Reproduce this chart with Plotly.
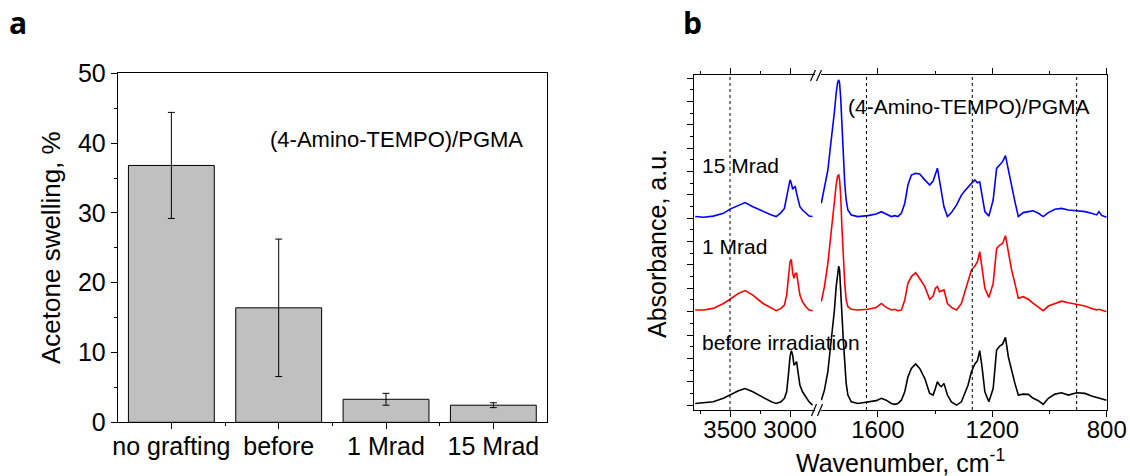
import plotly.graph_objects as go

W, H = 1130, 476
FONT = "Liberation Sans, Arial, sans-serif"

# ---------------- Panel a data ----------------
categories = ["no grafting", "before", "1 Mrad", "15 Mrad"]
swelling = [36.8, 16.4, 3.3, 2.45]
swelling_err = [7.6, 9.85, 0.85, 0.35]

# ---------------- Panel b data ----------------
# high-wavenumber segment (cm-1)
wn_high = [3790, 3720, 3640, 3555, 3500, 3430, 3375, 3310, 3225, 3155, 3115, 3075, 3047, 3028,
           3011, 3000, 2989, 2978, 2967, 2956, 2945, 2934, 2918, 2896, 2868, 2841, 2813]
abs_before_high = [0.07, 0.10, 0.14, 0.29, 0.43, 0.61, 0.71, 0.57, 0.33, 0.14, 0.07, 0.14, 0.29, 0.57,
                   1.43, 2.07, 2.33, 2.14, 1.71, 1.78, 1.86, 1.43, 0.86, 0.57, 0.36, 0.14, 0.00]
abs_1mrad_high = [0.07, 0.07, 0.14, 0.35, 0.53, 0.78, 0.90, 0.71, 0.35, 0.14, 0.04, 0.14, 0.28, 0.71,
                  1.64, 2.14, 2.24, 1.64, 1.43, 1.64, 1.64, 1.28, 0.71, 0.42, 0.21, 0.07, 0.04]
abs_15mrad_high = [0.07, 0.04, 0.09, 0.21, 0.39, 0.54, 0.67, 0.49, 0.28, 0.14, 0.07, 0.24, 0.42, 0.92,
                   1.42, 1.64, 1.49, 1.24, 1.32, 1.35, 1.06, 0.78, 0.49, 0.35, 0.21, 0.09, 0.07]

# low-wavenumber segment (cm-1)
wn_low = [1798, 1787, 1775, 1766, 1757, 1752, 1746, 1741, 1737, 1734, 1730, 1726, 1721, 1716, 1711,
          1705, 1693, 1670, 1635, 1606, 1588, 1571, 1553, 1541, 1530, 1518, 1506, 1495, 1483, 1468,
          1454, 1436, 1419, 1407, 1399, 1392, 1385, 1378, 1369, 1357, 1343, 1325, 1308, 1296, 1285,
          1273, 1261, 1252, 1244, 1236, 1226, 1212, 1197, 1185, 1174, 1164, 1154, 1144, 1133, 1121,
          1109, 1092, 1074, 1057, 1039, 1022, 1004, 981, 958, 934, 905, 876, 853, 835, 827, 818, 800]
abs_before_low = [0.21, 0.64, 1.43, 2.36, 3.35, 4.07, 5.07, 5.71, 5.95, 5.78, 5.07, 3.93, 2.78, 1.78, 0.93,
                  0.43, 0.14, 0.07, 0.14, 0.19, 0.29, 0.21, 0.07, 0.03, 0.07, 0.21, 0.57, 1.21, 1.57, 1.76,
                  1.57, 1.14, 0.50, 0.43, 0.71, 1.00, 0.86, 0.79, 0.93, 0.43, 0.14, 0.00, 0.14, 0.50, 0.85,
                  1.43, 1.76, 1.90, 2.33, 1.64, 0.57, 0.14, 0.71, 2.36, 2.53, 2.61, 2.90, 2.07, 1.50, 0.93,
                  0.43, 0.47, 0.46, 0.29, 0.19, 0.03, 0.29, 0.47, 0.53, 0.43, 0.53, 0.50, 0.39, 0.33, 0.33,
                  0.29, 0.21]
abs_1mrad_low = [0.43, 1.07, 2.07, 3.21, 4.07, 4.71, 5.42, 5.81, 5.85, 5.64, 4.92, 3.64, 2.35, 1.21, 0.50,
                 0.21, 0.10, 0.07, 0.10, 0.18, 0.35, 0.18, 0.07, 0.10, 0.04, 0.07, 0.50, 1.21, 1.50, 1.67,
                 1.42, 1.07, 0.53, 0.67, 1.00, 1.07, 0.85, 0.90, 0.93, 0.35, 0.18, 0.07, 0.35, 0.85, 1.30,
                 1.78, 1.95, 2.14, 2.57, 1.78, 1.00, 0.61, 1.21, 2.71, 2.85, 2.92, 3.25, 2.57, 1.81, 1.21,
                 0.57, 0.64, 0.53, 0.35, 0.21, 0.04, 0.24, 0.35, 0.45, 0.38, 0.31, 0.24, 0.14, 0.07, 0.10,
                 0.07, 0.00]
abs_15mrad_low = [0.64, 1.28, 2.06, 3.06, 3.92, 4.56, 5.35, 5.80, 5.92, 5.78, 5.12, 3.92, 2.63, 1.49, 0.78,
                  0.35, 0.14, 0.07, 0.11, 0.18, 0.28, 0.18, 0.07, 0.11, 0.07, 0.21, 0.64, 1.42, 1.85, 1.92,
                  1.89, 1.64, 1.42, 1.59, 1.92, 2.14, 1.64, 1.06, 0.49, 0.07, 0.24, 0.57, 0.99, 1.18, 1.35,
                  1.49, 1.64, 1.52, 1.56, 0.92, 0.28, 0.09, 0.78, 2.13, 2.28, 2.42, 2.68, 2.06, 1.35, 0.71,
                  0.07, 0.24, 0.28, 0.32, 0.21, 0.07, 0.24, 0.38, 0.42, 0.35, 0.32, 0.28, 0.21, 0.14, 0.28,
                  0.12, 0.04]

series_names = ["before irradiation", "1 Mrad", "15 Mrad"]
series_colors = ["#000000", "#ff0000", "#0000ff"]
series_offsets = [0, 4, 8]
ref_lines_high = [3500]
ref_lines_low = [1640, 1270, 905]


def px(x):
    return x / W


def py(y):
    return 1 - y / H


fig = go.Figure()

# ---- panel a bars ----
cat_pos = list(range(len(categories)))
fig.add_trace(go.Bar(
    x=cat_pos, y=swelling, width=0.8,
    marker=dict(color="#c0c0c0", line=dict(color="black", width=1)),
    error_y=dict(type="data", array=swelling_err, visible=True, color="black",
                 thickness=1, width=3.5),
    xaxis="x", yaxis="y", showlegend=False))

# ---- panel b spectra ----
highs = [abs_before_high, abs_1mrad_high, abs_15mrad_high]
lows = [abs_before_low, abs_1mrad_low, abs_15mrad_low]
for name, col, off, hi, lo in zip(series_names, series_colors, series_offsets, highs, lows):
    fig.add_trace(go.Scatter(x=wn_high, y=[v + off for v in hi], mode="lines", name=name,
                             line=dict(color=col, width=1.6), xaxis="x3", yaxis="y3",
                             showlegend=False))
    fig.add_trace(go.Scatter(x=wn_low, y=[v + off for v in lo], mode="lines", name=name,
                             line=dict(color=col, width=1.6), xaxis="x4", yaxis="y4",
                             showlegend=False))

tickfont_a = dict(family=FONT, size=25, color="black")
tickfont_b = dict(family=FONT, size=24, color="black")
common = dict(showgrid=False, zeroline=False, linecolor="black", linewidth=1,
              tickcolor="black", tickwidth=1, automargin=False)

xa_dom = [px(117.7), px(547)]
ya_dom = [py(422.3), py(73.3)]
xb1_dom = [px(694), px(815)]
xb2_dom = [px(821), px(1106.7)]
yb_dom = [py(410), py(75)]
yb_range = [-0.21, 14.13]

fig.update_layout(
    template="none",
    width=W, height=H, margin=dict(l=0, r=0, t=0, b=0, pad=0, autoexpand=False),
    paper_bgcolor="white", plot_bgcolor="white", showlegend=False,
    font=dict(family=FONT, color="black"),
    # panel a
    xaxis=dict(domain=xa_dom, anchor="y", range=[-0.5, 3.5], tickmode="array",
               tickvals=cat_pos, ticktext=categories, ticks="outside", ticklen=6,
               ticklabelstandoff=-4,
               showline=True, mirror=True, tickfont=tickfont_a,
               minor=dict(tickmode="array", tickvals=[0.5, 1.5, 2.5], ticks="outside",
                          ticklen=3, tickcolor="black"), **common),
    xaxis2=dict(overlaying="x", side="top", anchor="y", range=[-0.5, 3.5], tickmode="array",
                tickvals=cat_pos, ticks="inside", ticklen=6, showticklabels=False,
                showline=False,
                minor=dict(tickmode="array", tickvals=[0.5, 1.5, 2.5], ticks="inside",
                           ticklen=3, tickcolor="black"), **common),
    yaxis=dict(domain=ya_dom, anchor="x", range=[0, 50], tickmode="linear", tick0=0, dtick=10,
               ticks="outside", ticklen=6, showline=True, mirror=True, tickfont=tickfont_a,
               minor=dict(dtick=5, ticks="outside", ticklen=3, tickcolor="black"), **common),
    yaxis2=dict(overlaying="y", side="right", anchor="x", range=[0, 50], tickmode="linear",
                tick0=0, dtick=10, ticks="inside", ticklen=6, showticklabels=False,
                showline=False,
                minor=dict(dtick=5, ticks="inside", ticklen=3, tickcolor="black"), **common),
    # panel b
    xaxis3=dict(domain=xb1_dom, anchor="y3", range=[3800, 2792], tickmode="linear", tick0=0,
                dtick=500, ticks="outside", ticklen=6, showline=True, mirror="ticks",
                tickfont=tickfont_b, ticklabelstandoff=-8,
                minor=dict(dtick=250, ticks="outside", ticklen=3, tickcolor="black"), **common),
    xaxis4=dict(domain=xb2_dom, anchor="y4", range=[1799, 800], tickmode="linear", tick0=0,
                dtick=400, ticks="outside", ticklen=6, showline=True, mirror="ticks",
                tickfont=tickfont_b, ticklabelstandoff=-8,
                minor=dict(dtick=200, ticks="outside", ticklen=3, tickcolor="black"), **common),
    yaxis3=dict(domain=yb_dom, anchor="x3", range=yb_range, tickmode="linear", tick0=0, dtick=1,
                ticks="outside", ticklen=6, showline=True, showticklabels=False,
                minor=dict(dtick=0.5, ticks="outside", ticklen=3, tickcolor="black"), **common),
    yaxis4=dict(domain=yb_dom, anchor="x4", side="right", range=yb_range, matches="y3",
                ticks="", showline=True, showticklabels=False, **common),
)

shapes = []
for w in ref_lines_high:
    shapes.append(dict(type="line", xref="x3", yref="y3 domain", x0=w, x1=w, y0=0, y1=1,
                       line=dict(color="black", width=1, dash="dot")))
for w in ref_lines_low:
    shapes.append(dict(type="line", xref="x4", yref="y4 domain", x0=w, x1=w, y0=0, y1=1,
                       line=dict(color="black", width=1, dash="dot")))
# axis-break marks
for (xa, ya, xb, yb) in [(810.5, 81, 815.5, 70), (816.5, 81, 821.5, 70),
                         (811.5, 416, 816.5, 404), (817.5, 416, 822.5, 404)]:
    shapes.append(dict(type="line", xref="paper", yref="paper", x0=px(xa), y0=py(ya),
                       x1=px(xb), y1=py(yb), line=dict(color="black", width=1.2)))
fig.update_layout(shapes=shapes)

annotations = [
    dict(text="<b>a</b>", x=px(7), y=py(22), xanchor="left", yanchor="middle",
         font=dict(family="Open Sans, sans-serif", size=30, color="black")),
    dict(text="<b>b</b>", x=px(681), y=py(22), xanchor="left", yanchor="middle",
         font=dict(family="Open Sans, sans-serif", size=30, color="black")),
    dict(text="Acetone swelling, %", x=px(51), y=py(248), textangle=-90,
         xanchor="center", yanchor="middle", font=dict(family=FONT, size=26, color="black")),
    dict(text="(4-Amino-TEMPO)/PGMA", x=px(396), y=py(139), xanchor="center", yanchor="middle",
         font=dict(family=FONT, size=22, color="black")),
    dict(text="Absorbance, a.u.", x=px(657), y=py(244), textangle=-90,
         xanchor="center", yanchor="middle", font=dict(family=FONT, size=25, color="black")),
    dict(text="Wavenumber, cm<sup>-1</sup>", x=px(900), y=py(461), xanchor="center",
         yanchor="middle", font=dict(family=FONT, size=25, color="black")),
    dict(text="(4-Amino-TEMPO)/PGMA", x=px(969), y=py(107), xanchor="center", yanchor="middle",
         font=dict(family=FONT, size=21, color="black")),
]
label_y = {"15 Mrad": 165, "1 Mrad": 246, "before irradiation": 342}
for name in series_names:
    annotations.append(dict(text=name, x=px(700), y=py(label_y[name]), xanchor="left",
                            yanchor="middle", font=dict(family=FONT, size=21, color="black")))
for a in annotations:
    a.update(xref="paper", yref="paper", showarrow=False)
fig.update_layout(annotations=annotations)

fig.write_html("out.html")
